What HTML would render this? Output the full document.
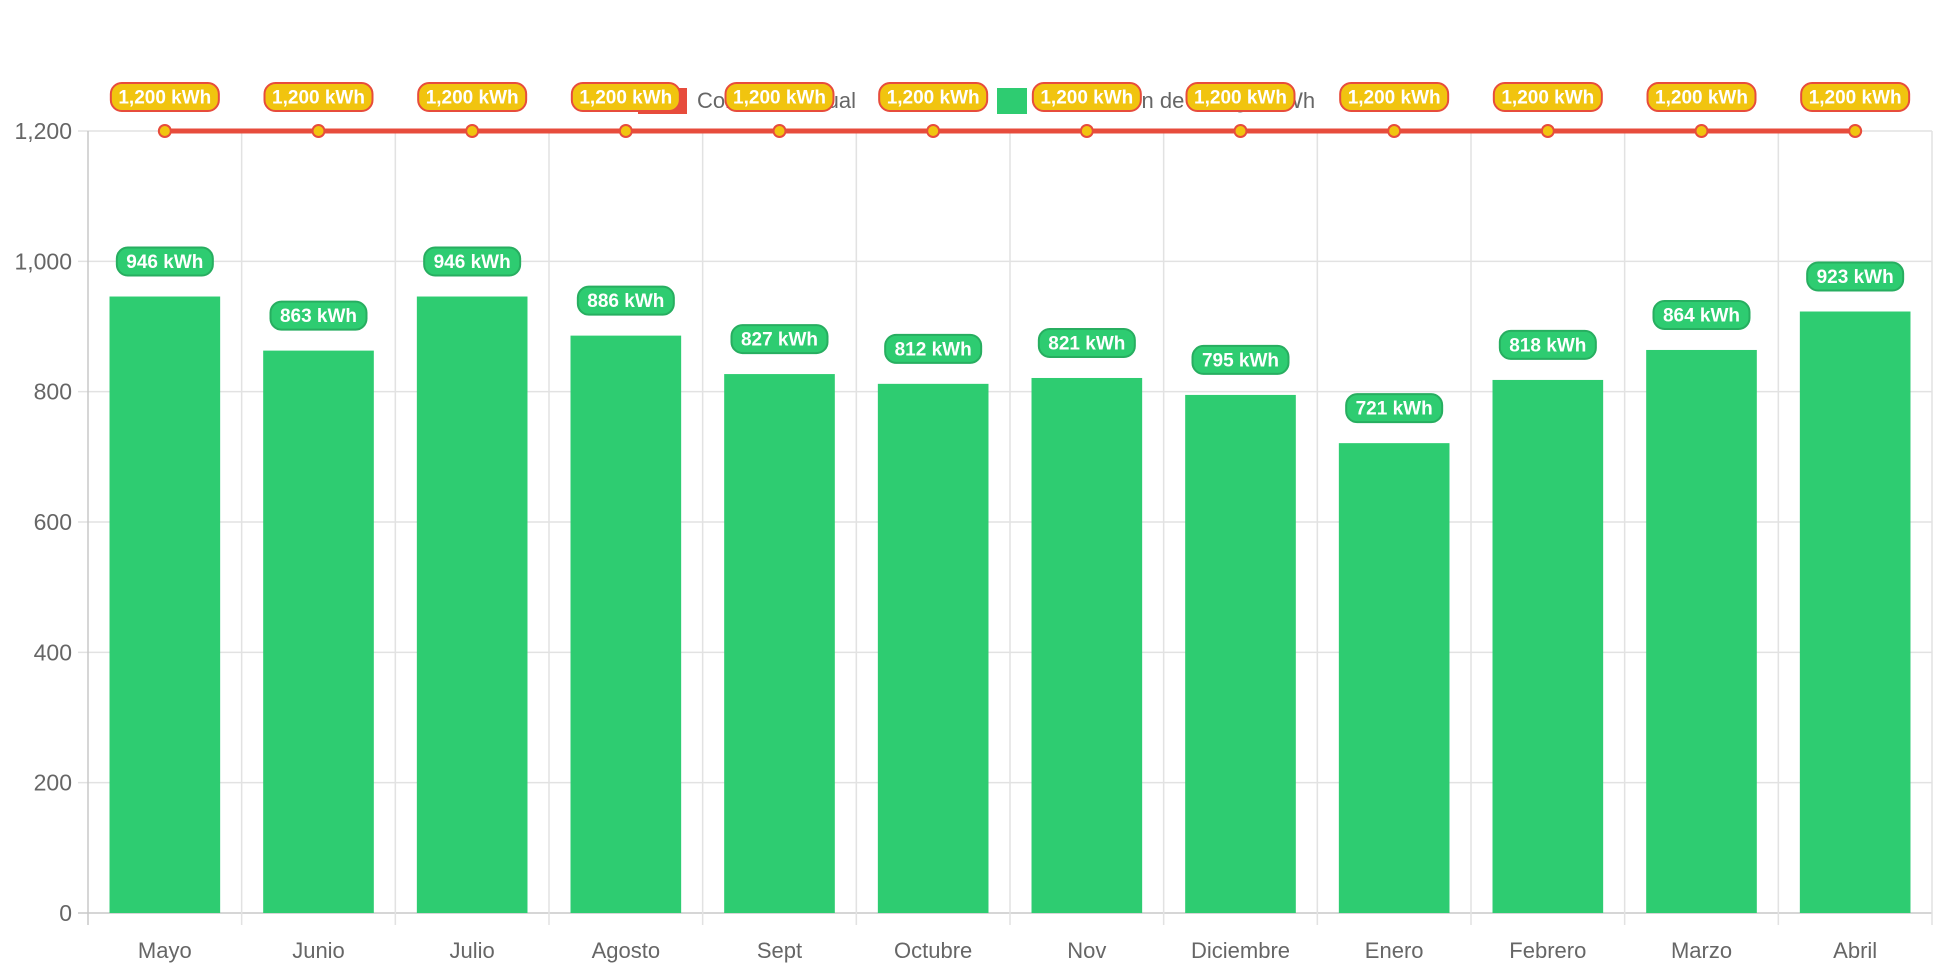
<!DOCTYPE html>
<html><head><meta charset="utf-8"><style>
html,body{margin:0;padding:0;background:#fff;}
svg{display:block;font-family:"Liberation Sans",Arial,sans-serif;}
</style></head><body>
<svg id="chart" width="1942" height="970" viewBox="0 0 1942 970" xmlns="http://www.w3.org/2000/svg"></svg>
<script>
const categories=["Mayo","Junio","Julio","Agosto","Sept","Octubre","Nov","Diciembre","Enero","Febrero","Marzo","Abril"];
const generation=[946,863,946,886,827,812,821,795,721,818,864,923];
const consumption=[1200,1200,1200,1200,1200,1200,1200,1200,1200,1200,1200,1200];
const yTicks=[0,200,400,600,800,1000,1200];
const fmt=v=>v.toLocaleString('en-US')+' kWh';
const svg=document.getElementById('chart');
const NS='http://www.w3.org/2000/svg';
const L=88,R=1932,T=131,B=913,yMax=1200;
const cw=(R-L)/categories.length;
const x=i=>L+cw*(i+0.5);
const y=v=>B-(v/yMax)*(B-T);
function mk(tag,attrs,parent){const e=document.createElementNS(NS,tag);for(const k in attrs)e.setAttribute(k,attrs[k]);(parent||svg).appendChild(e);return e;}
yTicks.forEach(t=>{
  const g=mk('line',{x1:L-10,x2:R,y1:y(t),y2:y(t),stroke:t===0?'#c8c8c8':'#e2e2e2','stroke-width':1.5});
  
  
  const tx=mk('text',{x:L-16,y:y(t)+8,'text-anchor':'end','font-size':23,fill:'#666'});
  tx.textContent=t.toLocaleString('en-US');
  
  
});
for(let i=0;i<=categories.length;i++){
  const gx=L+cw*i;
  const g=mk('line',{x1:gx,x2:gx,y1:T,y2:B+12,stroke:i===0?'#c8c8c8':'#e2e2e2','stroke-width':1.5});
  
  
}
categories.forEach((c,i)=>{
  const tx=mk('text',{x:x(i),y:958,'text-anchor':'middle','font-size':22,fill:'#666'});
  tx.textContent=c;
  
  
});
const bw=cw*0.72;
generation.forEach((v,i)=>{
  const r=mk('rect',{x:x(i)-bw/2,y:y(v),width:bw,height:B-y(v),fill:'#2ecc71'});
  
  
});
const lg=mk('g',{});


const lr=mk('rect',{x:638,y:88,width:49,height:26,fill:'#e74c3c'},lg);


const lt1=mk('text',{x:697,y:108,'font-size':22,fill:'#666'},lg);lt1.textContent='Consumo actual';


const lg2=mk('rect',{x:997,y:88,width:30,height:26,fill:'#2ecc71'},lg);


const lt2=mk('text',{x:1040,y:108,'font-size':22,fill:'#666'},lg);lt2.textContent='Generación de energía kWh';


const pts=consumption.map((v,i)=>x(i)+','+y(v)).join(' ');
const pl=mk('polyline',{points:pts,fill:'none',stroke:'#e74c3c','stroke-width':5});


consumption.forEach((v,i)=>{
  const c=mk('circle',{cx:x(i),cy:y(v),r:6,fill:'#f1c40f',stroke:'#e74c3c','stroke-width':2});
  
  
});
function pill(cx,cy,w,txt,fill,stroke,name){
  const g=mk('g',{});
  
  
  mk('rect',{x:cx-w/2,y:cy-14,width:w,height:28,rx:11,fill:fill,stroke:stroke,'stroke-width':2},g);
  const t=mk('text',{x:cx,y:cy+6.5,'text-anchor':'middle','font-size':19,'font-weight':'bold',fill:'#fff'},g);
  t.textContent=txt;
}
generation.forEach((v,i)=>pill(x(i),y(v)-35,96,fmt(v),'#2ecc71','#27ae60','generation-value-label'));
consumption.forEach((v,i)=>pill(x(i),y(v)-34,108,fmt(v),'#f1c40f','#e74c3c','consumption-value-label'));
</script>
</body></html>
